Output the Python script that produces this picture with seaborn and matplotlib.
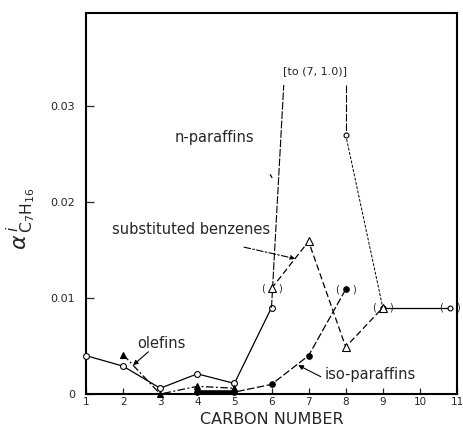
import matplotlib
matplotlib.use('Agg')
import matplotlib.pyplot as plt
import seaborn as sns

# ---------------- data ----------------
carbon_ticks = [1, 2, 3, 4, 5, 6, 7, 8, 9, 10, 11]
y_ticks = [0, 0.01, 0.02, 0.03]
y_tick_labels = ['0', '0.01', '0.02', '0.03']

# n-paraffins (open circles, solid)
npar_x = [1, 2, 3, 4, 5, 6]
npar_y = [0.0040, 0.0029, 0.0006, 0.0021, 0.0011, 0.0090]
# broken segment going off toward (7, 1.0)
npar_up_x = [6, 6.33]
npar_up_y = [0.0090, 0.0322]
npar_down_x = [8, 8]
npar_down_y = [0.0322, 0.0270]
npar_tail_x = [8, 9]
npar_tail_y = [0.0270, 0.0090]
npar_flat_x = [9, 10.8]
npar_flat_y = [0.0090, 0.0090]

# substituted benzenes (open triangles, dashed)
benz_x = [6, 7, 8, 9]
benz_y = [0.0110, 0.0159, 0.0049, 0.0090]

# olefins (filled triangles, dash-dot)
olef_x = [2, 3, 4, 5]
olef_y = [0.0041, 0.0000, 0.0008, 0.0006]

# iso-paraffins (filled circles, dashed)
iso_x = [4, 5, 6, 7, 8]
iso_y = [0.0002, 0.0002, 0.0010, 0.0040, 0.0109]

# points shown in parentheses (uncertain values)
paren_x = [6, 9, 10.8, 8]
paren_y = [0.0110, 0.0090, 0.0090, 0.0109]

# ---------------- style ----------------
sns.set_style('ticks')
plt.rcParams['font.family'] = ['DejaVu Sans']
plt.rcParams['mathtext.fontset'] = 'dejavusans'

fig = plt.figure(figsize=(4.63, 4.30), dpi=100)
ax = fig.add_axes([86 / 463, 1 - 394 / 430, (457 - 86) / 463, (394 - 13) / 430])


def draw(x, y, ls='-', marker='', mfc='white', lw=0.9, ms=4.0):
    sns.lineplot(x=x, y=y, ax=ax, color='k', lw=lw, linestyle=ls,
                 marker=marker if marker else None, markersize=ms,
                 markerfacecolor=mfc, markeredgecolor='k',
                 markeredgewidth=0.8, sort=False, estimator=None,
                 clip_on=False, zorder=3)


# n-paraffins
draw(npar_x, npar_y, '-', 'o', 'white', 0.9, 4.2)
draw(npar_up_x, npar_up_y, (0, (7, 1.5)), '', 'white', 0.8)
draw(npar_down_x, npar_down_y, (0, (7, 1.5)), '', 'white', 0.8)
draw(npar_tail_x, npar_tail_y, (0, (3, 1.5)), 'o', 'white', 0.7, 3.5)
draw(npar_flat_x, npar_flat_y, '-', 'o', 'white', 0.9, 3.5)

# substituted benzenes
draw(benz_x, benz_y, (0, (5, 2.5)), '^', 'white', 0.9, 5.5)

# olefins
draw(olef_x, olef_y, (0, (6, 2, 1.5, 2)), '^', 'black', 0.9, 5.0)

# iso-paraffins
draw(iso_x, iso_y, (0, (6, 2)), 'o', 'black', 0.9, 4.0)
draw(iso_x[:2], iso_y[:2], '-', '', 'black', 2.6)

# parentheses round uncertain points
for px, py in zip(paren_x, paren_y):
    ax.annotate('(', (px, py), xytext=(-6, 0), textcoords='offset points',
                ha='center', va='center', fontsize=7)
    ax.annotate(')', (px, py), xytext=(6, 0), textcoords='offset points',
                ha='center', va='center', fontsize=7)

# labels
ax.text(4.46, 0.0267, 'n-paraffins', ha='center', va='center', fontsize=10.5)
ax.text(7.17, 0.0336, '[to (7, 1.0)]', ha='center', va='center', fontsize=8)
ax.text(3.84, 0.0171, 'substituted benzenes', ha='center', va='center', fontsize=10.5)
ax.text(3.04, 0.0053, 'olefins', ha='center', va='center', fontsize=10.5)
ax.text(8.67, 0.0020, 'iso-paraffins', ha='center', va='center', fontsize=10.5)

arrow = dict(arrowstyle='-|>', color='k', lw=0.8, mutation_scale=7,
             shrinkA=0, shrinkB=0)
ax.annotate('', xy=(2.27, 0.0030), xytext=(2.68, 0.0044), arrowprops=arrow)
ax.annotate('', xy=(6.72, 0.0030), xytext=(7.33, 0.0018), arrowprops=arrow)
ax.annotate('', xy=(6.64, 0.0141), xytext=(5.26, 0.0153),
            arrowprops=dict(arrow, linestyle=(0, (6, 2, 1.5, 2))))
ax.annotate('', xy=(6.05, 0.0223), xytext=(5.93, 0.0231),
            arrowprops=dict(arrowstyle='-', color='k', lw=0.9))

# axes
ax.set_xlim(1, 11)
ax.set_ylim(0, 0.0397)
ax.set_xticks(carbon_ticks)
ax.set_xticklabels([str(c) for c in carbon_ticks])
ax.set_yticks(y_ticks)
ax.set_yticklabels(y_tick_labels)
ax.tick_params(axis='x', direction='in', length=4, width=0.9, labelsize=7.5, pad=2)
ax.tick_params(axis='y', direction='in', length=6, width=0.9, labelsize=8, pad=8)
for sp in ax.spines.values():
    sp.set_visible(True)
    sp.set_linewidth(1.5)
    sp.set_color('k')

ax.set_xlabel('CARBON NUMBER', fontsize=11.5, labelpad=4)
ax.set_ylabel(r'$\alpha^{\,i}_{\,\mathrm{C_7H_{16}}}$', fontsize=16, rotation=90)
ax.yaxis.set_label_coords(-0.13, 0.46)

fig.savefig('out.png', dpi=100)
